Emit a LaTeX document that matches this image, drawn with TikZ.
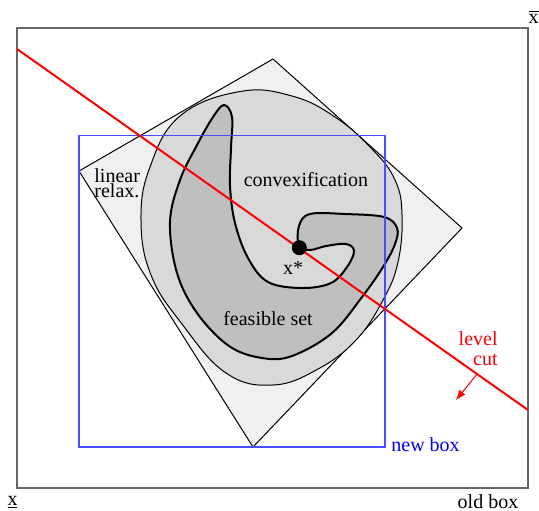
\documentclass[tikz,border=0pt]{standalone}
\usepackage{fontspec}
\setmainfont{Liberation Serif}
\usetikzlibrary{arrows.meta}
\definecolor{relaxfill}{gray}{0.94}
\definecolor{convfill}{gray}{0.85}
\definecolor{feasfill}{gray}{0.75}
\definecolor{boxgray}{gray}{0.4}
\definecolor{boxblue}{rgb}{0.3,0.3,1}
\tikzset{
  lbl/.style={inner sep=0pt, font=\fontsize{10}{12}\selectfont},
  oldbox/.style={draw=boxgray, line width=0.75pt},
  newbox/.style={draw=boxblue, line width=0.6pt},
  relaxpoly/.style={draw=black, fill=relaxfill, line width=0.5pt, line join=miter},
  convset/.style={draw=black, fill=convfill, line width=0.5pt},
  feasset/.style={draw=black, fill=feasfill, line width=1pt},
  cutline/.style={draw=red, line width=1pt},
  cutarrow/.style={draw=red, fill=red, line width=0.5pt, -{Latex[length=5pt,width=4pt]}},
}
\begin{document}
\begin{tikzpicture}[x=0.5pt,y=-0.5pt]
\useasboundingbox (0,0) rectangle (539,510);
% old box
\draw[oldbox] (17,28) rectangle (528,488);
% linear relaxation polygon
\draw[relaxpoly] (273,59) -- (462,228) -- (253,447) -- (79,171) -- cycle;
% convexification
\draw[convset] plot[smooth cycle, tension=0.7] coordinates {
  (240,91.5) (292,96) (335,117) (372,149) (395,180) (402,215) (398,262)
  (383,300) (356,340) (318,369) (273,385) (226,373) (182,324) (151,275)
  (141,220) (150,167) (180,116)};
% feasible set
\draw[feasset] plot[smooth cycle, tension=0.6] coordinates {
  (299,246) (299,226) (310,214) (345,214) (384,217) (397,228) (395,244)
  (383,267) (362,297) (332,333) (292,356) (262,358) (229,346) (197,313)
  (177,273) (170,222) (180,180) (197,145) (213,117) (224,105) (232,117)
  (231,148) (230,186) (235,223) (248,258) (268,282) (302,288) (331,283)
  (347,267) (354,251) (346,244) (326,246) (310,250)};
% new box
\draw[newbox] (79,135.5) rectangle (385,447);
% level cut
\coordinate (r1) at (17,49);
\coordinate (r2) at (528,410);
\draw[cutline] (r1) -- (r2);
\coordinate (a1) at (476.7,374.5);
\coordinate (a2) at (456,400);
\draw[cutarrow] (a1) -- (a2);
% optimum
\fill[black] (299.3,247.7) circle (7.5);
% labels
\node[lbl, anchor=base west, align=left, font=\fontsize{10}{7.5}\selectfont] (lin) at (94,197) {linear\\relax.};
\node[lbl, anchor=base] (conv) at (306,186.5) {convexification};
\node[lbl, anchor=base] (feas) at (268,325) {feasible set};
\node[lbl, anchor=base] (xs) at (293,274) {x*};
\node[lbl, anchor=base east, align=right, text=red, font=\fontsize{10}{10.25}\selectfont] (lev) at (498,365.5) {level\\cut};
\node[lbl, anchor=base west, text=blue] (nb) at (391,451.5) {new box};
\node[lbl, anchor=base] (ob) at (488,508) {old box};
\node[lbl, anchor=base] (xu) at (533.5,23.4) {$\overline{\mbox{x}}$};
\node[lbl, anchor=base] (xl) at (12.5,505) {\underline{x}};
\end{tikzpicture}
\end{document}
